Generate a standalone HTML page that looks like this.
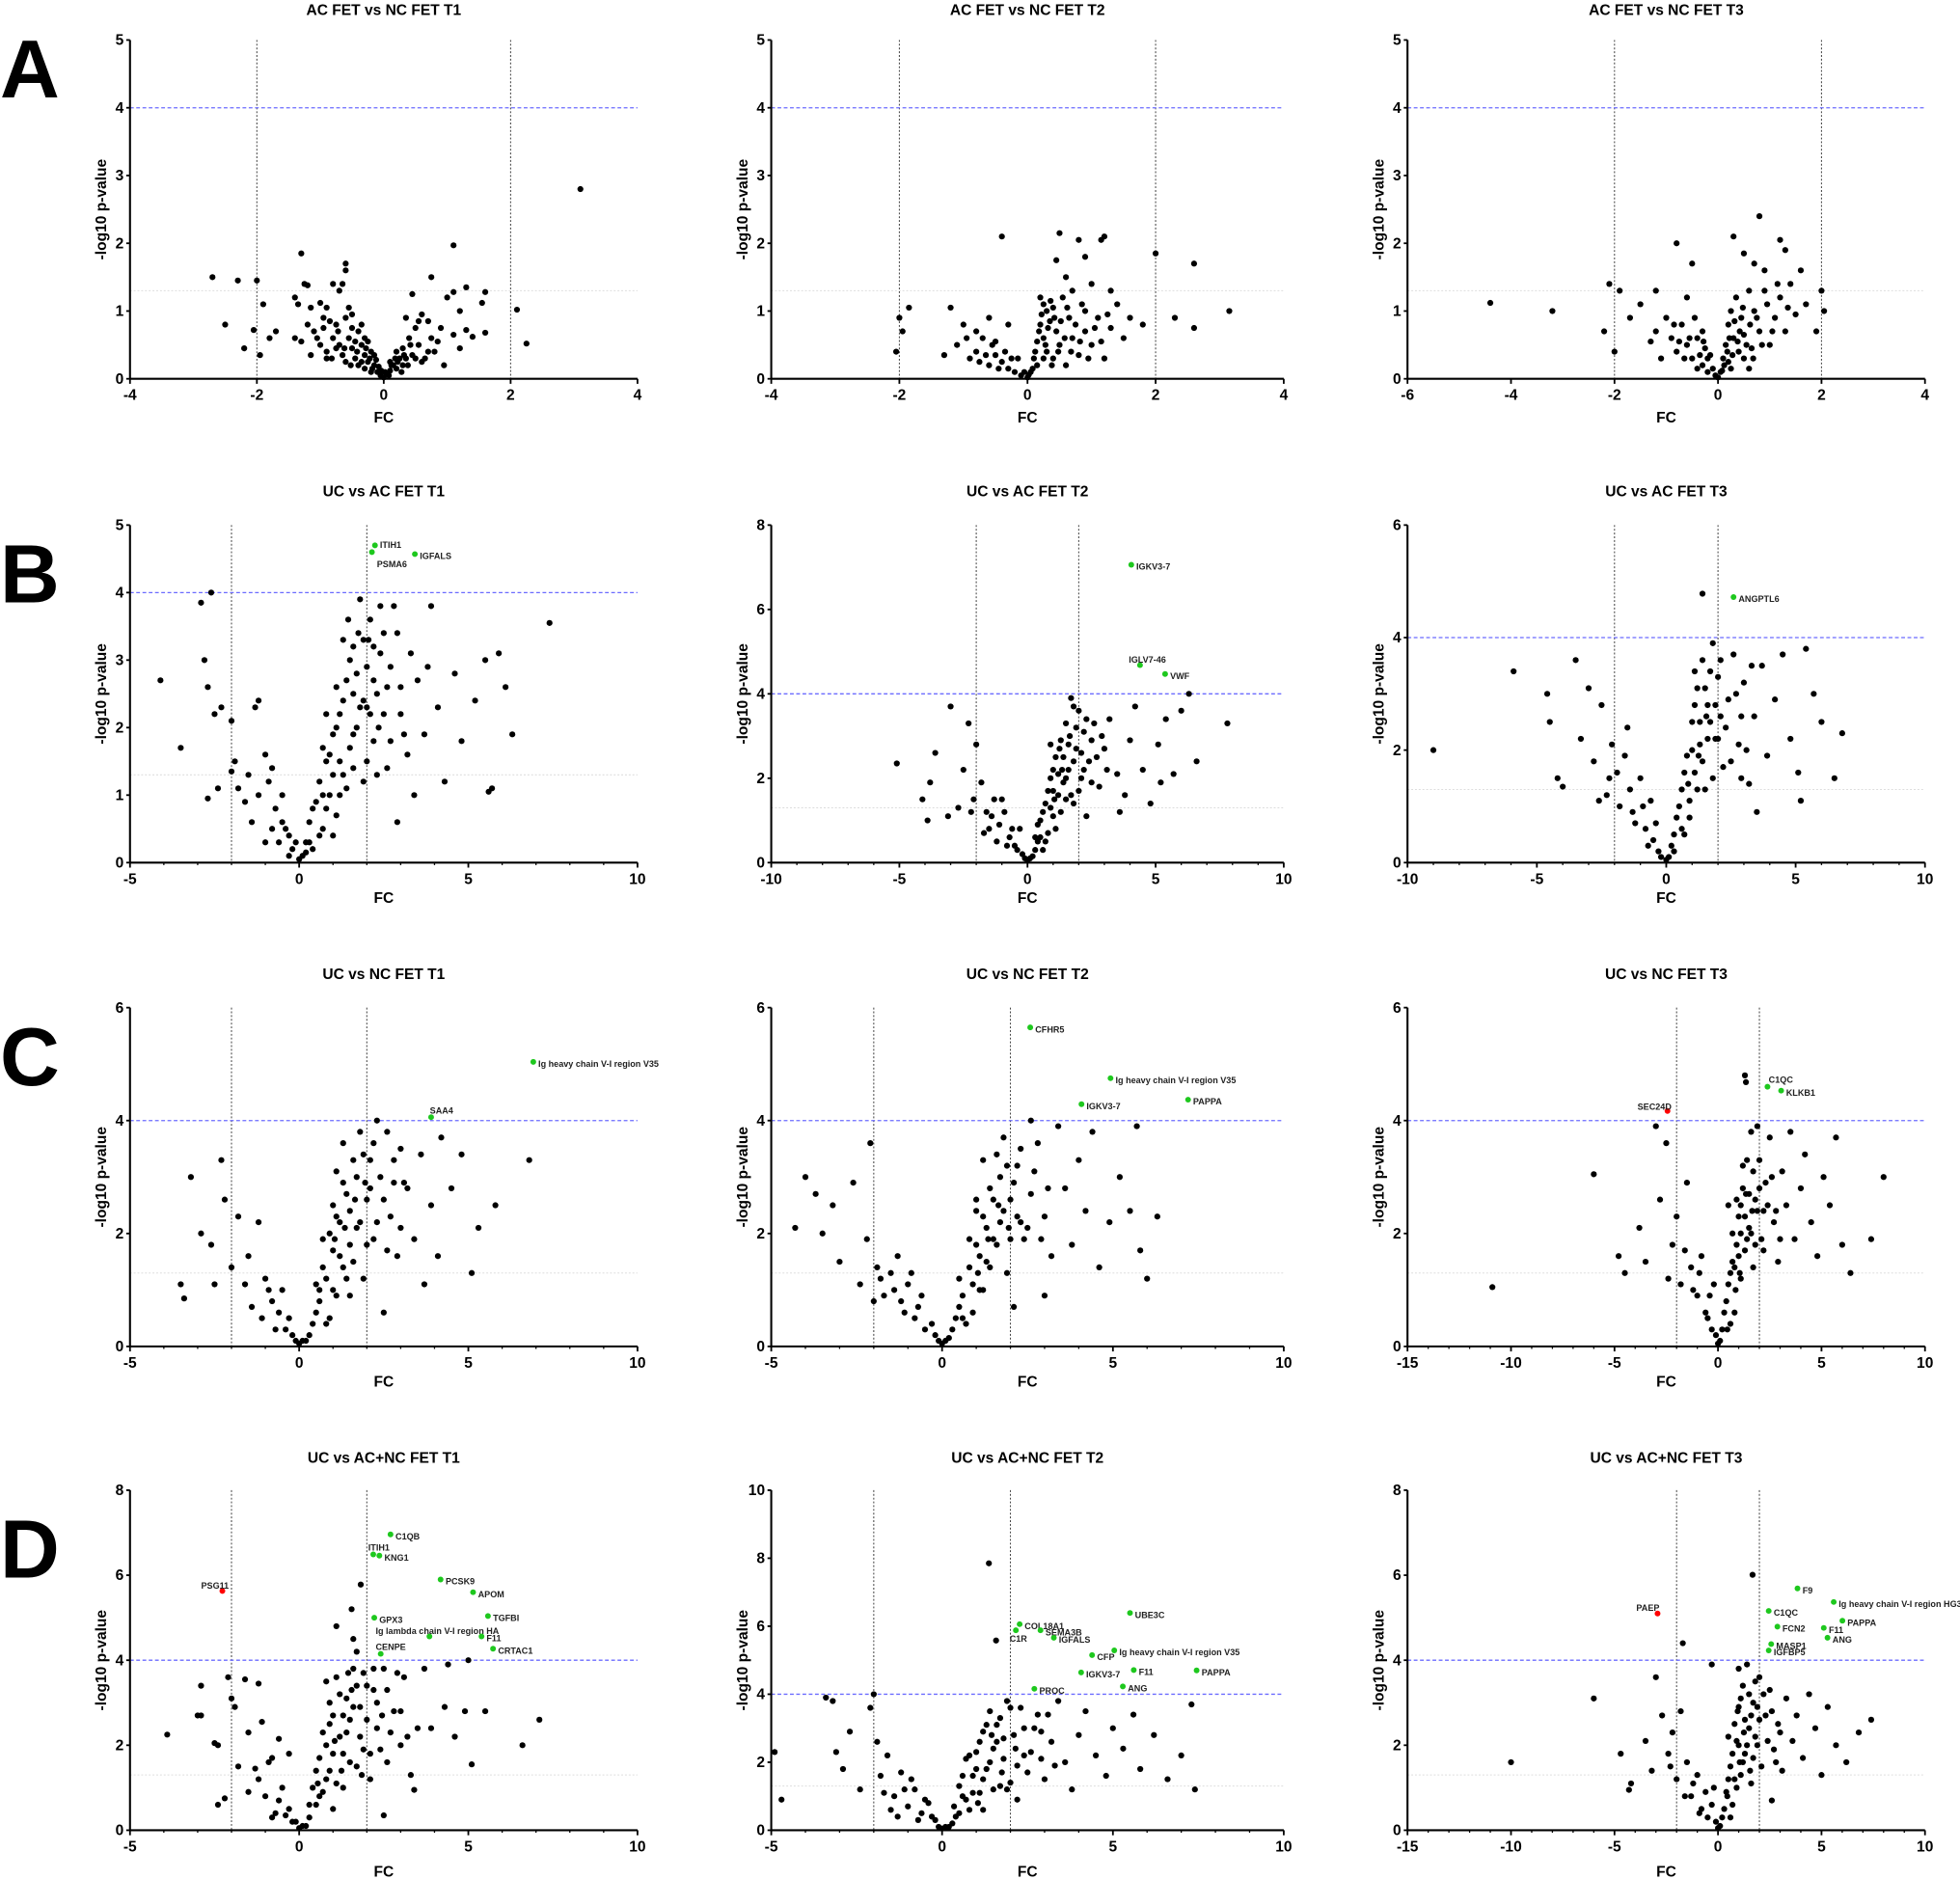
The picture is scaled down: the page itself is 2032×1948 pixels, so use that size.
<!DOCTYPE html>
<html><head><meta charset="utf-8"><style>
html,body{margin:0;padding:0;background:#fff;}
svg{display:block;}
text{font-family:"Liberation Sans",Arial,sans-serif;font-weight:bold;}
</style></head><body>
<svg id="fig" width="2032" height="1948" viewBox="0 0 1568 1503" preserveAspectRatio="none" xmlns="http://www.w3.org/2000/svg">
<g id="root"></g>
</svg>
<script>
const panelTitles = ["AC FET vs NC FET T1","AC FET vs NC FET T2","AC FET vs NC FET T3","UC vs AC FET T1","UC vs AC FET T2","UC vs AC FET T3","UC vs NC FET T1","UC vs NC FET T2","UC vs NC FET T3","UC vs AC+NC FET T1","UC vs AC+NC FET T2","UC vs AC+NC FET T3"];
const xDomains = [[-4,4],[-4,4],[-6,4],[-5,10],[-10,10],[-10,10],[-5,10],[-5,10],[-15,10],[-5,10],[-5,10],[-15,10]];
const yMaxes = [5,5,5,5,8,6,6,6,6,8,10,8];
const xSteps = [2,2,2,5,5,5,5,5,5,5,5,5];
const ySteps = [1,1,1,1,2,2,2,2,2,2,2,2];

const ptsA1=[[3.1,2.8],[-2.7,1.5],[-2.3,1.45],[-2,1.45],[-1.3,1.85],[1.1,1.97],[-0.6,1.7],[-0.6,1.6],[0.75,1.5],[-2.5,0.8],[-2.2,0.45],[-2.05,0.72],[-1.95,0.35],[-1.9,1.1],[-1.8,0.6],[-1.7,0.7],[2.1,1.02],[2.25,0.52],[1.6,1.28],[1.3,1.35],[1.1,1.28],[1.55,1.12],[1,1.2],[1.2,1],[-1.4,1.2],[-1.35,1.1],[-1.2,1.38],[-1.25,1.4],[-0.65,1.4],[-0.7,1.3],[-0.8,1.4],[-1,1.12],[-0.9,1.05],[-1.4,0.6],[-1.3,0.55],[-1.2,0.8],[-1.1,0.7],[-1.05,0.6],[-1,0.5],[-0.95,0.75],[-0.9,0.4],[-0.85,0.85],[-0.8,0.6],[-0.75,0.8],[-0.7,0.5],[-0.65,0.35],[-0.6,0.9],[-0.55,0.6],[-0.5,0.95],[-0.5,0.45],[-0.45,0.3],[-0.4,0.7],[-0.4,0.2],[-0.35,0.5],[-0.3,0.35],[-0.3,0.15],[-0.25,0.25],[-0.2,0.4],[-0.2,0.1],[-0.15,0.2],[-0.1,0.1],[-0.05,0.05],[0,0.02],[0.05,0.08],[0.1,0.12],[0.15,0.2],[0.2,0.15],[0.25,0.3],[0.3,0.45],[0.3,0.2],[0.35,0.9],[0.4,0.6],[0.45,0.35],[0.5,0.75],[0.55,0.5],[0.6,0.95],[0.65,0.3],[0.7,0.85],[0.75,0.6],[0.8,0.4],[0.9,0.75],[0.95,0.2],[1.1,0.65],[1.2,0.45],[1.3,0.72],[1.4,0.62],[1.6,0.68],[-1.15,1.05],[-0.55,1.05],[-0.5,0.75],[-0.9,0.3],[0.6,0.25],[0.45,1.25],[-0.35,0.8],[-0.6,0.25],[-0.25,0.55],[0.2,0.4],[0.35,0.3],[-0.15,0.35],[0.1,0.25]];
const extraA1=[[-0.45,0.55],[-0.35,0.25],[-0.28,0.45],[-0.22,0.3],[-0.18,0.15],[-0.12,0.28],[-0.08,0.18],[-0.04,0.12],[0.02,0.1],[0.08,0.05],[0.12,0.2],[0.18,0.3],[0.22,0.25],[0.28,0.1],[0.32,0.35],[0.38,0.2],[0.42,0.5],[-0.62,0.45],[-0.72,0.7],[-0.82,0.3],[-0.52,0.2],[-0.42,0.4],[0.5,0.3],[0.55,0.85],[0.7,0.4],[-0.3,0.6],[-0.75,0.45],[-1.15,0.35],[-0.95,0.9],[0.85,0.55]];
const ptsA2=[[-2,0.9],[-1.95,0.7],[-2.05,0.4],[-1.85,1.05],[3.15,1],[2.6,1.7],[2.6,0.75],[2,1.85],[2.3,0.9],[-0.4,2.1],[0.5,2.15],[0.8,2.05],[1.2,2.1],[1.15,2.05],[0.9,1.8],[0.6,1.5],[0.45,1.75],[0.2,1.2],[0.25,1.1],[-1.2,1.05],[-1,0.8],[-1.1,0.5],[-0.8,0.4],[-0.7,0.6],[-0.9,0.3],[-0.6,0.2],[-0.5,0.35],[-0.4,0.25],[-0.3,0.15],[-0.2,0.1],[-0.1,0.05],[-0.6,0.9],[-0.3,0.8],[0,0.02],[0.05,0.1],[0.1,0.3],[0.15,0.55],[0.2,0.8],[0.25,0.6],[0.3,1],[0.3,0.4],[0.35,0.85],[0.4,0.3],[0.45,0.7],[0.5,0.5],[0.55,1.2],[0.6,0.2],[0.65,0.9],[0.7,0.6],[0.8,0.35],[0.85,1.1],[0.9,0.7],[1,0.5],[1.1,0.9],[1.2,0.3],[1.3,0.75],[1.4,1.1],[1.5,0.6],[1.6,0.9],[1.8,0.8],[1.3,1.3],[1,1.4],[-0.8,0.7],[-0.5,0.55],[-1.3,0.35],[0.4,1.05],[0.7,1.3],[0.25,0.3],[0.15,0.2],[-0.15,0.3]];
const extraA2=[[0.12,0.4],[0.18,0.7],[0.22,0.95],[0.28,0.5],[0.32,0.75],[0.36,1.15],[0.38,0.2],[0.42,0.9],[0.48,0.4],[0.52,0.85],[0.58,0.6],[0.62,1.05],[0.68,0.4],[0.75,0.8],[0.82,0.55],[0.9,1.0],[0.95,0.3],[1.05,0.75],[1.15,0.55],[-0.35,0.4],[-0.45,0.15],[-0.25,0.3],[-0.55,0.5],[-0.65,0.35],[-0.75,0.25],[-0.95,0.6],[0.08,0.15],[0.02,0.06],[-0.05,0.1],[1.25,0.95]];
const ptsA3=[[-4.4,1.12],[-3.2,1],[-2.2,0.7],[-2.1,1.4],[-2,0.4],[-1.9,1.3],[-1.7,0.9],[-1.5,1.1],[-1.3,0.55],[-1.2,1.3],[-0.8,2],[-0.5,1.7],[0.3,2.1],[0.5,1.85],[0.8,2.4],[1.2,2.05],[1.3,1.9],[0.7,1.7],[2,1.3],[2.05,1],[1.9,0.7],[1.6,1.6],[1.4,1.4],[-1,0.9],[-0.9,0.6],[-0.8,0.4],[-0.7,0.8],[-0.6,0.5],[-0.5,0.3],[-0.45,0.9],[-0.4,0.6],[-0.3,0.2],[-0.25,0.45],[-0.2,0.1],[-0.1,0.15],[0,0.02],[0.05,0.1],[0.1,0.3],[0.15,0.5],[0.2,0.8],[0.25,1],[0.3,0.6],[0.35,1.2],[0.4,0.4],[0.45,0.9],[0.5,0.65],[0.6,1.3],[0.65,0.45],[0.7,1],[0.8,0.7],[0.9,1.3],[1,0.5],[1.1,0.9],[1.2,1.2],[1.3,0.7],[1.5,0.95],[1.7,1.1],[-1.1,0.3],[-0.6,1.2],[0.9,1.6],[-0.3,0.7],[0.2,0.25],[0.5,0.3],[-0.15,0.35]];
const extraA3=[[0.12,0.2],[0.18,0.4],[0.22,0.6],[0.28,0.35],[0.32,0.85],[0.38,0.55],[0.42,0.7],[0.48,1.05],[0.55,0.5],[0.62,0.8],[0.68,0.3],[0.75,0.9],[0.85,0.5],[0.95,1.1],[1.05,0.7],[1.15,1.4],[-0.35,0.35],[-0.4,0.15],[-0.55,0.6],[-0.65,0.3],[-0.75,0.55],[-0.85,0.8],[-0.2,0.3],[-0.05,0.05],[0.08,0.12],[-1.2,0.7],[1.35,1.05],[0.6,0.15],[0.25,0.15],[-0.28,0.55]];
const ptsB1=[[-4.1,2.7],[-3.5,1.7],[-2.9,3.85],[-2.6,4],[-2.8,3],[-2.7,2.6],[-2.5,2.2],[-2.4,1.1],[-2.3,2.3],[-2.7,0.95],[-2,2.1],[-2,1.35],[-1.9,1.5],[-1.8,1.1],[-1.2,2.4],[-1.3,2.3],[-1.5,1.3],[-1.6,0.9],[-1,1.6],[-0.9,1.2],[-0.8,1.4],[-0.7,0.8],[-0.5,0.6],[-0.5,1],[-0.3,0.4],[-0.2,0.2],[-0.1,0.3],[0,0.05],[0.1,0.1],[0.2,0.3],[0.3,0.6],[0.4,0.2],[0.5,0.9],[0.6,1.2],[0.7,0.5],[0.8,1.5],[0.9,1],[1,1.9],[1.1,0.7],[1.2,2.2],[1.3,1.3],[1.4,2.7],[1.5,1.7],[1.6,3.2],[1.7,2],[1.8,3.9],[1.9,1.2],[2,2.9],[2.1,3.6],[2.2,1.8],[2.3,2.5],[2.5,3.4],[2.6,1.4],[2.7,2.9],[2.8,3.8],[3,2.2],[3.2,1.6],[3.3,3.1],[3.5,2.7],[3.7,1.9],[3.9,3.8],[4.1,2.3],[4.3,1.2],[4.6,2.8],[4.8,1.8],[5.2,2.4],[5.5,3],[5.6,1.05],[5.7,1.1],[6.1,2.6],[5.9,3.1],[6.3,1.9],[7.4,3.55],[1.6,2.5],[1.3,3.3],[0.8,2.2],[1.1,2.6],[2.4,3.8],[3.4,1],[2.9,0.6],[3.8,2.9],[0.4,0.8],[0.7,1.7],[1.0,1.3],[1.9,2.4],[2.2,3.2],[-0.4,0.5]];
const extraB1=[[0.6,0.4],[0.7,1],[0.9,1.6],[1,0.4],[1.1,2],[1.2,1.5],[1.3,2.4],[1.4,1.1],[1.5,3],[1.6,1.4],[1.7,2.8],[1.8,2.3],[1.9,3.3],[2,1.5],[2.1,2.2],[2.2,2.7],[2.3,1.3],[2.4,3.1],[2.5,2.2],[2.6,2.6],[2.7,1.8],[2.9,3.4],[3,2.6],[3.1,1.9],[0.3,0.3],[0.2,0.15],[-0.3,0.1],[-0.6,0.3],[-0.8,0.5],[-1,0.3],[-1.2,1],[-1.4,0.6],[1.2,1.0],[0.8,0.8],[1.6,1.9],[2.0,2.3],[1.45,3.6],[1.75,3.4],[2.05,3.3],[2.35,2.0]];
const ptsB2=[[-3,3.7],[-5.1,2.35],[-4.1,1.5],[-3.8,1.9],[-3.6,2.6],[-3.1,1.1],[-3.9,1],[-2.5,2.2],[-2.3,3.3],[-2,2.8],[-2.1,1.5],[-1.8,1.9],[-1.6,1.2],[-1.5,0.8],[-1.3,1.5],[-1.1,0.9],[-0.9,1.2],[-0.7,0.6],[-0.5,0.4],[-0.3,0.8],[-0.2,0.2],[0,0.05],[0.2,0.15],[0.4,0.5],[0.5,1],[0.6,0.3],[0.7,1.4],[0.8,0.7],[0.9,2],[1,1.1],[1.1,2.5],[1.2,1.6],[1.3,2.9],[1.4,1.9],[1.5,3.3],[1.6,2.2],[1.7,3.9],[1.8,1.4],[1.9,2.7],[2,3.6],[2.1,2],[2.2,3.1],[2.4,2.4],[2.6,3.3],[2.8,1.8],[3,2.7],[3.2,3.4],[3.5,2.1],[3.8,1.6],[4,2.9],[4.2,3.7],[4.5,2.2],[4.8,1.4],[5.1,2.8],[5.4,3.4],[5.7,2.1],[6,3.6],[6.3,4],[6.6,2.4],[7.8,3.3],[5.2,1.9],[3.6,1.2],[2.3,1.1],[1.5,1.5],[0.9,2.8],[1.8,3.7],[-2.7,1.3],[-1.2,0.5],[0.3,0.6],[1.0,1.7],[2.5,2.9]];
const extraB2=[[0.4,0.9],[0.6,1.2],[0.7,0.5],[0.8,1.7],[0.9,1.3],[1,2.2],[1.1,0.8],[1.2,2.1],[1.3,1.2],[1.4,2.5],[1.5,2.0],[1.6,2.8],[1.7,1.6],[1.8,2.4],[1.9,3.2],[2,1.7],[2.1,2.6],[2.2,2.2],[2.3,3.4],[2.5,1.9],[2.7,2.5],[2.9,3.0],[3.1,2.2],[0.3,0.3],[0.1,0.1],[-0.1,0.1],[-0.4,0.3],[-0.6,0.8],[-0.8,0.4],[-1,1.5],[-1.4,1.1],[-1.7,0.7],[-2.2,1.2],[0.5,0.6],[1.05,1.5],[1.35,2.2],[1.65,3.0],[1.25,2.7]];
const ptsB3=[[1.4,4.78],[-9,2],[-5.9,3.4],[-4.6,3],[-4.5,2.5],[-4.2,1.5],[-4,1.35],[-3.5,3.6],[-3.3,2.2],[-3,3.1],[-2.8,1.8],[-2.5,2.8],[-2.3,1.2],[-2.1,2.1],[-1.9,1.6],[-1.6,1.9],[-1.3,0.9],[-1,1.5],[-0.8,0.6],[-0.5,0.4],[-0.3,0.2],[0,0.05],[0.2,0.3],[0.4,0.8],[0.6,1.3],[0.7,0.5],[0.8,1.9],[0.9,1.1],[1,2.5],[1.1,1.6],[1.2,3.1],[1.3,2.1],[1.4,3.6],[1.5,1.3],[1.6,2.8],[1.8,3.9],[1.9,2.2],[2,3.3],[2.2,1.7],[2.4,2.9],[2.6,3.7],[2.8,2.1],[3,3.2],[3.2,1.4],[3.4,2.6],[3.7,3.5],[3.9,1.9],[4.2,2.9],[4.5,3.7],[4.8,2.2],[5.1,1.6],[5.4,3.8],[5.7,3],[6,2.5],[6.5,1.5],[6.8,2.3],[5.2,1.1],[3.5,0.9],[1.7,2.5],[1.1,3.4],[-1.5,2.4],[-0.6,1.1],[0.3,0.5],[2.1,2.6],[2.9,1.5]];
const extraB3=[[0.5,1],[0.7,1.6],[0.9,0.8],[1,2.0],[1.1,2.8],[1.2,1.3],[1.3,2.5],[1.4,1.8],[1.5,3.1],[1.6,2.2],[1.7,3.4],[1.8,1.5],[1.9,2.8],[2,2.2],[2.1,3.6],[2.3,2.4],[2.5,1.8],[2.7,3.0],[2.9,2.6],[3.1,2.0],[3.3,3.5],[0.3,0.2],[0.1,0.1],[-0.2,0.1],[-0.4,0.7],[-0.7,0.3],[-0.9,1.0],[-1.2,0.7],[-1.4,1.3],[-1.8,1.0],[-2.2,1.5],[-2.6,1.1],[0.6,0.6],[0.85,1.4],[1.25,1.9],[1.55,2.6]];
const ptsC1=[[-3.2,3],[-3.5,1.1],[-3.4,0.85],[-2.9,2],[-2.6,1.8],[-2.5,1.1],[-2.3,3.3],[-2.2,2.6],[-2,1.4],[-1.8,2.3],[-1.5,1.6],[-1.2,2.2],[-1,1.2],[-0.8,0.8],[-0.6,0.6],[-0.4,0.3],[-0.2,0.2],[0,0.05],[0.2,0.1],[0.4,0.4],[0.6,0.8],[0.8,1.2],[0.9,0.5],[1,1.7],[1.1,0.9],[1.2,2.2],[1.3,1.4],[1.4,2.7],[1.5,1.8],[1.6,3.3],[1.7,2.1],[1.8,3.8],[1.9,1.2],[2,2.6],[2.1,3.3],[2.2,1.9],[2.4,3],[2.6,3.8],[2.7,2.3],[2.9,1.6],[3,3.5],[3.2,2.8],[3.4,1.9],[3.6,3.4],[3.9,2.5],[4.1,1.6],[4.2,3.7],[4.5,2.8],[4.8,3.4],[5.1,1.3],[5.3,2.1],[5.8,2.5],[6.8,3.3],[1.3,3.6],[1.1,3.1],[2.3,4],[0.7,1.9],[2.5,0.6],[3.7,1.1],[0.5,1.1],[1.0,2.5],[1.5,0.9],[2.8,2.9],[-0.5,1],[-1.4,0.7]];
const extraC1=[[0.5,0.6],[0.7,1.4],[0.8,0.4],[0.9,2.0],[1,1.0],[1.1,2.3],[1.2,1.6],[1.3,2.9],[1.4,1.2],[1.5,2.4],[1.6,1.5],[1.7,3.0],[1.8,2.2],[1.9,3.4],[2,1.8],[2.1,2.8],[2.2,3.6],[2.3,2.2],[2.5,2.6],[2.6,1.7],[2.8,3.3],[3,2.1],[3.1,2.9],[0.3,0.2],[0.1,0.1],[-0.1,0.1],[-0.3,0.5],[-0.7,0.3],[-0.9,1.0],[-1.1,0.5],[-1.6,1.1],[0.6,1.0],[1.05,1.9],[1.35,2.1],[1.65,2.6],[1.95,2.9]];
const ptsC2=[[-4.3,2.1],[-4,3],[-3.7,2.7],[-3.5,2],[-3.2,2.5],[-3,1.5],[-2.6,2.9],[-2.4,1.1],[-2.2,1.9],[-2.1,3.6],[-1.9,1.4],[-1.7,0.9],[-1.5,1.3],[-1.2,0.8],[-1,1.1],[-0.8,0.5],[-0.5,0.3],[-0.2,0.2],[0,0.05],[0.2,0.15],[0.4,0.5],[0.6,0.9],[0.8,1.4],[0.9,0.6],[1,1.8],[1.1,1],[1.2,2.3],[1.3,1.5],[1.4,2.8],[1.5,1.9],[1.6,3.4],[1.7,2.2],[1.8,3.7],[1.9,1.3],[2,2.6],[2.2,3.2],[2.4,1.9],[2.6,2.7],[2.8,3.6],[3,2.3],[3.2,1.6],[3.4,3.9],[3.6,2.8],[3.8,1.8],[4,3.3],[4.2,2.4],[4.4,3.8],[4.6,1.4],[4.9,2.2],[5.2,3],[5.5,2.4],[5.7,3.9],[6,1.2],[6.3,2.3],[5.8,1.7],[3,0.9],[2.1,0.7],[1.2,3.3],[2.6,4],[-0.6,0.9],[-1.3,1.6],[0.5,1.2],[1.0,2.6],[2.3,2.2]];
const extraC2=[[0.5,0.7],[0.7,0.4],[0.8,1.9],[0.9,1.1],[1,2.4],[1.1,1.6],[1.2,1.0],[1.3,2.1],[1.4,1.4],[1.5,2.6],[1.6,1.8],[1.7,3.0],[1.8,2.4],[1.9,3.2],[2,1.9],[2.1,2.9],[2.2,2.3],[2.3,3.5],[2.5,2.1],[2.7,3.1],[2.9,1.9],[3.1,2.8],[0.3,0.3],[0.1,0.1],[-0.1,0.1],[-0.3,0.4],[-0.7,0.7],[-0.9,1.3],[-1.1,0.6],[-1.4,1.0],[-1.8,1.2],[-2.0,0.8],[0.6,0.5],[1.05,1.3],[1.35,1.9],[1.65,2.5],[1.95,2.1]];
const ptsC3=[[1.3,4.8],[1.35,4.68],[-10.9,1.05],[-6,3.05],[-4.8,1.6],[-4.5,1.3],[-3.8,2.1],[-3.5,1.5],[-3,3.9],[-2.8,2.6],[-2.5,3.6],[-2.2,1.8],[-2,2.3],[-1.8,1.1],[-1.5,2.9],[-1.3,1.4],[-1,0.9],[-0.8,1.6],[-0.5,0.5],[-0.3,0.3],[0,0.05],[0.2,0.3],[0.4,0.8],[0.6,1.3],[0.8,0.6],[0.9,1.8],[1,2.3],[1.1,1.2],[1.2,2.8],[1.3,1.7],[1.4,3.3],[1.5,2.1],[1.6,3.8],[1.7,1.4],[1.8,2.6],[2,3.3],[2.1,1.9],[2.3,2.9],[2.5,3.7],[2.7,2.2],[2.9,1.5],[3.1,3.1],[3.3,2.5],[3.5,3.8],[3.7,1.9],[4,2.8],[4.2,3.4],[4.5,2.2],[4.8,1.6],[5.1,3],[5.4,2.5],[5.7,3.7],[6,1.8],[6.4,1.3],[7.4,1.9],[8,3],[0.5,2.5],[1.9,3.9],[-0.2,1.1],[0.7,1.5],[1.1,2.5],[2.2,2.4]];
const extraC3=[[0.3,0.6],[0.5,1.1],[0.6,0.4],[0.7,2.0],[0.8,1.4],[0.9,2.6],[1,1.6],[1.1,2.0],[1.2,3.2],[1.3,2.3],[1.4,1.9],[1.5,2.7],[1.6,2.0],[1.7,3.1],[1.8,1.8],[1.9,2.4],[2,2.8],[2.2,1.7],[2.4,2.5],[2.6,3.0],[2.8,2.4],[3,1.9],[0.1,0.1],[-0.1,0.2],[-0.4,0.9],[-0.6,0.6],[-0.9,1.3],[-1.2,1.0],[-1.6,1.7],[-2.4,1.2],[0.45,0.3],[1.05,1.3],[1.35,2.7],[1.65,2.4],[0.85,1.0]];
const ptsD1=[[1.82,5.78],[1.55,5.2],[1.1,4.8],[1.6,4.5],[1.7,4.2],[5,4],[4.4,3.9],[-3.9,2.25],[-3,2.7],[-2.9,2.7],[-2.9,3.4],[-2.5,2.05],[-2.4,2],[-2.4,0.6],[-2.2,0.75],[-2.1,3.6],[-2,3.1],[-1.9,2.9],[-1.8,1.5],[-1.6,3.55],[-1.5,2.3],[-1.3,1.45],[-1.2,3.45],[-1.1,2.55],[-0.9,1.6],[-0.8,1.7],[-0.6,2.15],[-0.3,1.8],[-0.5,1],[-0.3,0.5],[-0.1,0.2],[0,0.05],[0.2,0.1],[0.3,0.6],[0.5,1.4],[0.6,0.8],[0.7,2.3],[0.8,1.2],[0.9,3],[1,1.8],[1.1,3.6],[1.2,2.2],[1.3,1],[1.4,3.1],[1.5,2.6],[1.6,3.8],[1.7,1.5],[1.8,2.9],[2,3.4],[2.1,1.2],[2.3,2.4],[2.5,3.8],[2.6,1.6],[2.8,2.8],[3,2],[3.1,3.6],[3.3,1.3],[3.5,2.4],[3.7,3.8],[3.9,2.4],[4.3,2.9],[4.6,2.2],[4.9,2.8],[5.1,1.55],[5.5,2.8],[6.6,2],[7.1,2.6],[3.4,0.95],[2.5,0.35],[1,0.5],[0.9,2.5],[2.2,3.3],[0.4,1],[0.8,3.5],[1.3,2.7],[1.9,1.9],[-0.7,0.4],[-1.0,0.8]];
const extraD1=[[0.5,0.6],[0.6,1.7],[0.7,0.9],[0.8,2.0],[0.9,1.4],[1,2.7],[1.1,1.1],[1.2,3.2],[1.3,1.8],[1.4,2.3],[1.5,1.6],[1.6,2.9],[1.7,3.4],[1.8,2.2],[1.9,3.7],[2,2.6],[2.1,1.8],[2.2,3.8],[2.3,3.0],[2.4,1.9],[2.6,3.3],[2.7,2.3],[2.9,3.7],[3,2.8],[3.2,2.2],[0.3,0.3],[0.1,0.1],[-0.2,0.2],[-0.4,0.35],[-0.6,0.7],[-0.8,0.3],[-1.2,1.2],[-1.5,0.9],[0.55,1.1],[1.05,2.1],[1.25,1.4],[1.55,3.3],[1.85,1.3],[2.45,2.7],[1.45,3.7]];
const ptsD2=[[1.37,7.85],[1.58,5.58],[-4.7,0.9],[-4.9,2.3],[-3.4,3.9],[-3.2,3.8],[-3.1,2.3],[-2.9,1.8],[-2.7,2.9],[-2.4,1.2],[-2.1,3.6],[-2,4],[-1.9,2.6],[-1.8,1.6],[-1.6,2.2],[-1.4,1],[-1.2,1.7],[-1,0.7],[-0.8,1.2],[-0.6,0.5],[-0.4,0.8],[-0.2,0.3],[0,0.05],[0.2,0.1],[0.4,0.4],[0.6,1],[0.8,0.6],[0.9,1.6],[1,2.3],[1.1,1.1],[1.2,2.9],[1.3,1.8],[1.4,3.5],[1.5,2.4],[1.6,3.1],[1.7,1.3],[1.8,2.7],[2,3.6],[2.2,1.9],[2.4,3],[2.6,2.3],[2.8,3.4],[3,1.5],[3.2,2.6],[3.4,3.8],[3.6,2],[3.8,1.2],[4,2.8],[4.2,3.5],[4.5,2.2],[4.8,1.6],[5,3],[5.3,2.4],[5.6,3.4],[5.8,1.8],[6.2,2.8],[6.6,1.5],[7,2.2],[7.4,1.2],[7.3,3.7],[2.2,0.9],[1.2,0.6],[0.7,2.1],[0.5,1.3],[-0.9,1.5],[-1.5,0.6],[1.9,1.2],[2.9,2.9]];
const extraD2=[[0.5,0.5],[0.6,1.6],[0.7,0.9],[0.8,2.2],[0.9,1.1],[1,1.8],[1.1,2.6],[1.2,1.5],[1.3,3.1],[1.4,2.0],[1.5,1.2],[1.6,2.6],[1.7,3.3],[1.8,2.1],[1.9,3.8],[2,1.4],[2.1,2.8],[2.3,3.6],[2.4,2.2],[2.5,1.7],[2.7,3.0],[2.9,2.1],[3.1,3.4],[3.3,1.9],[0.3,0.2],[0.1,0.1],[-0.1,0.1],[-0.3,0.4],[-0.5,0.9],[-0.7,0.3],[-1.1,1.2],[-1.3,0.4],[-1.7,1.1],[0.35,0.7],[1.05,0.8],[1.45,2.8],[1.75,1.7],[2.15,2.4]];
const ptsD3=[[1.67,6.01],[-1.7,4.4],[-0.3,3.9],[-10,1.6],[-6,3.1],[-4.7,1.8],[-4.2,1.1],[-4.3,0.95],[-3.5,2.1],[-3.2,1.4],[-3,3.6],[-2.7,2.7],[-2.4,1.8],[-2.2,2.3],[-2,1.2],[-1.8,2.8],[-1.5,1.6],[-1.3,0.8],[-1,1.3],[-0.8,0.5],[-0.5,0.3],[0,0.05],[0.2,0.3],[0.4,0.9],[0.6,1.5],[0.7,0.6],[0.9,2.1],[1,2.9],[1.1,1.3],[1.2,3.4],[1.3,1.8],[1.4,3.9],[1.5,2.4],[1.6,1.1],[1.7,3],[1.8,2.2],[2,3.6],[2.1,1.5],[2.3,2.7],[2.5,3.3],[2.7,1.9],[2.9,2.5],[3.1,1.4],[3.3,3.1],[3.6,2.1],[3.8,2.7],[4.1,1.7],[4.4,3.2],[4.7,2.4],[5,1.3],[5.3,2.9],[5.7,2],[6.2,1.6],[6.8,2.3],[7.4,2.6],[1,3.8],[2.6,0.7],[-0.2,1],[0.5,2.2],[0.8,1.2],[1.9,2.9]];
const extraD3=[[0.3,0.5],[0.5,1.2],[0.6,0.3],[0.7,1.8],[0.8,2.5],[0.9,1.0],[1,2.0],[1.1,3.1],[1.2,1.6],[1.3,2.6],[1.4,2.0],[1.5,3.2],[1.6,2.7],[1.7,1.7],[1.8,3.5],[1.9,2.0],[2,2.6],[2.2,3.2],[2.4,2.1],[2.6,2.8],[2.8,1.6],[3,2.3],[0.1,0.1],[-0.1,0.2],[-0.3,0.6],[-0.6,0.9],[-0.9,0.4],[-1.2,1.1],[-1.6,0.8],[-2.3,1.5],[0.45,0.8],[1.05,1.6],[1.25,2.3],[1.55,1.4],[0.95,2.8]];
const allPts=[ptsA1.concat(extraA1),ptsA2.concat(extraA2),ptsA3.concat(extraA3),ptsB1.concat(extraB1),ptsB2.concat(extraB2),ptsB3.concat(extraB3),ptsC1.concat(extraC1),ptsC2.concat(extraC2),ptsC3.concat(extraC3),ptsD1.concat(extraD1),ptsD2.concat(extraD2),ptsD3.concat(extraD3)];

// highlighted proteins: [fc, -log10p, label, colour, labelDx, labelDy]
const hitsB1=[[2.24,4.7,"ITIH1","g",4,0],[2.15,4.6,"PSMA6","g",4,10],[3.42,4.57,"IGFALS","g",4,2]];
const hitsB2=[[4.05,7.06,"IGKV3-7","g",4,2],[4.39,4.68,"IGLV7-46","g",-9,-4],[5.37,4.47,"VWF","g",4,2]];
const hitsB3=[[2.6,4.72,"ANGPTL6","g",4,2]];
const hitsC1=[[6.92,5.04,"Ig heavy chain V-I region V35","g",4,2],[3.9,4.06,"SAA4","g",-1,-5]];
const hitsC2=[[2.58,5.65,"CFHR5","g",4,2],[4.93,4.75,"Ig heavy chain V-I region V35","g",4,2],[7.2,4.37,"PAPPA","g",4,2],[4.08,4.29,"IGKV3-7","g",4,2]];
const hitsC3=[[-2.44,4.17,"SEC24D","r",-24,-3],[2.39,4.6,"C1QC","g",1,-5],[3.05,4.53,"KLKB1","g",4,2]];
const hitsD1=[[-2.27,5.63,"PSG11","r",-17,-4],[2.7,6.96,"C1QB","g",4,2],[2.19,6.49,"ITIH1","g",-4,-5],[2.37,6.46,"KNG1","g",4,2],[4.18,5.9,"PCSK9","g",4,2],[5.14,5.6,"APOM","g",4,2],[2.22,5.0,"GPX3","g",4,2],[5.58,5.04,"TGFBI","g",4,2],[3.85,4.56,"Ig lambda chain V-I region HA","g",-43,-4],[5.39,4.56,"F11","g",4,2],[2.41,4.15,"CENPE","g",-4,-5],[5.73,4.27,"CRTAC1","g",4,2]];
const hitsD2=[[5.5,6.39,"UBE3C","g",4,2],[2.27,6.06,"COL18A1","g",4,2],[2.16,5.88,"C1R","g",-5,7],[2.88,5.88,"SEMA3B","g",4,2],[3.27,5.66,"IGFALS","g",4,2],[5.04,5.29,"Ig heavy chain V-I region V35","g",4,2],[4.39,5.15,"CFP","g",4,2],[7.45,4.7,"PAPPA","g",4,2],[4.07,4.64,"IGKV3-7","g",4,2],[5.61,4.71,"F11","g",4,2],[5.29,4.23,"ANG","g",4,2],[2.7,4.16,"PROC","g",4,2]];
const hitsD3=[[-2.92,5.1,"PAEP","r",-17,-4],[3.84,5.69,"F9","g",4,2],[5.59,5.37,"Ig heavy chain V-I region HG3","g",4,2],[6.01,4.93,"PAPPA","g",4,2],[2.45,5.16,"C1QC","g",4,2],[2.87,4.79,"FCN2","g",4,2],[5.11,4.76,"F11","g",4,2],[5.29,4.53,"ANG","g",4,2],[2.57,4.38,"MASP1","g",4,2],[2.45,4.23,"IGFBP5","g",4,2]];
const allHits=[[],[],[],hitsB1,hitsB2,hitsB3,hitsC1,hitsC2,hitsC3,hitsD1,hitsD2,hitsD3];

const colX=[[104,510],[617,1027],[1126,1540]];
const rowY=[[32,303],[420,690],[806,1077],[1192,1464]];
const titleY=[12,397,783,1170];
const fcY=[338,722,1109,1501];
const letters=["A","B","C","D"];
const letterY=[78,482,868,1262];

const NS="http://www.w3.org/2000/svg";
const root=document.getElementById("root");
function mk(tag,attrs,parent){const e=document.createElementNS(NS,tag);for(const k in attrs)e.setAttribute(k,attrs[k]);(parent||root).appendChild(e);return e;}

letters.forEach((L,i)=>{
  const t=mk("text",{x:0,y:letterY[i],"font-size":66});
  t.textContent=L;
  
  
});

for(let p=0;p<12;p++){
  const r=Math.floor(p/3),c=p%3;
  const [x0,x1]=colX[c],[y0,y1]=rowY[r];
  const [dmin,dmax]=xDomains[p],ymax=yMaxes[p];
  const sx=v=>x0+(v-dmin)/(dmax-dmin)*(x1-x0);
  const sy=v=>y1-(v/ymax)*(y1-y0);
  const g=mk("g",{});
  
  
  const cx=(x0+x1)/2;
  const tt=mk("text",{x:cx,y:titleY[r],"text-anchor":"middle","font-size":12},g);
  tt.textContent=panelTitles[p];
  
  
  mk("line",{x1:x0,x2:x1,y1:sy(1.3),y2:sy(1.3),stroke:"#ddd","stroke-width":0.8,"stroke-dasharray":"1.5,1.5"},g);
  [-2,2].forEach(v=>{
    const l=mk("line",{x1:sx(v),x2:sx(v),y1:y0,y2:y1,stroke:"#444","stroke-width":0.8,"stroke-dasharray":"1.5,1.5"},g);
    
    
  });
  const hl=mk("line",{x1:x0,x2:x1,y1:sy(4),y2:sy(4),stroke:"#6b6bff","stroke-width":1,"stroke-dasharray":"3,2"},g);
  
  
  mk("line",{x1:x0,x2:x0,y1:y0,y2:y1,stroke:"#000","stroke-width":1.6},g);
  mk("line",{x1:x0,x2:x1,y1:y1,y2:y1,stroke:"#000","stroke-width":1.6},g);
  for(let v=0;v<=ymax+1e-9;v+=ySteps[p]){
    mk("line",{x1:x0-3,x2:x0,y1:sy(v),y2:sy(v),stroke:"#000","stroke-width":1.4},g);
    const t=mk("text",{x:x0-5,y:sy(v)+4,"text-anchor":"end","font-size":12},g);
    t.textContent=v;
    
    
  }
  if(xSteps[p]===5){
    for(let v=dmin;v<=dmax;v++){mk("line",{x1:sx(v),x2:sx(v),y1:y1,y2:y1+2,stroke:"#000","stroke-width":1},g);}
  }
  for(let v=dmin;v<=dmax+1e-9;v+=xSteps[p]){
    mk("line",{x1:sx(v),x2:sx(v),y1:y1,y2:y1+4,stroke:"#000","stroke-width":1.4},g);
    const t=mk("text",{x:sx(v),y:y1+17,"text-anchor":"middle","font-size":12},g);
    t.textContent=v;
    
    
  }
  const xl=mk("text",{x:cx,y:fcY[r],"text-anchor":"middle","font-size":12},g);
  xl.textContent="FC";
  
  
  const ly=(y0+y1)/2;
  const yl=mk("text",{x:x0-19,y:ly,"text-anchor":"middle","font-size":12,transform:"rotate(-90 "+(x0-19)+" "+ly+")"},g);
  yl.textContent="-log10 p-value";
  
  
  allPts[p].forEach(d=>{
    const ci=mk("circle",{cx:sx(d[0]),cy:sy(d[1]),r:2.4,fill:"#000"},g);
    
    
  });
  allHits[p].forEach(h=>{
    const px=sx(h[0]),py=sy(h[1]);
    const ci=mk("circle",{cx:px,cy:py,r:2.3,fill:h[3]==="r"?"#f00":"#1ec81e"},g);
    
    
    const t=mk("text",{x:px+h[4],y:py+h[5]+2,"font-size":7,"font-weight":"normal",fill:"#222"},g);
    t.textContent=h[2];
    
    
  });
}
</script>
</body></html>
